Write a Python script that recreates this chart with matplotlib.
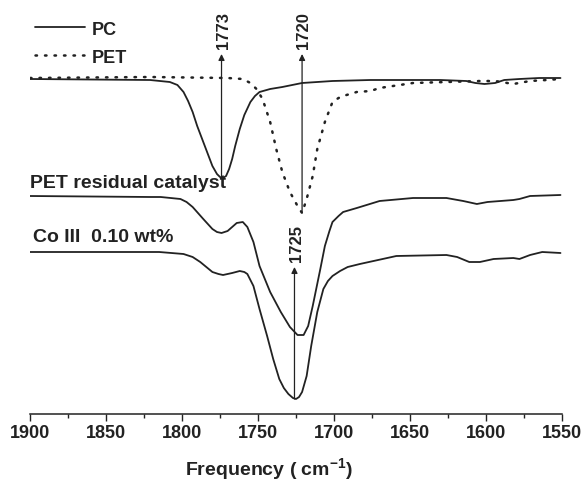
import numpy as np
import matplotlib
matplotlib.use("Agg")
import matplotlib.pyplot as plt
from matplotlib.ticker import MultipleLocator

plt.rcParams['font.family'] = ['Liberation Sans', 'DejaVu Sans']
plt.rcParams['font.weight'] = 'bold'
plt.rcParams['axes.labelweight'] = 'bold'
plt.rcParams['mathtext.default'] = 'regular'

INK = '#222222'

# FTIR spectra, transmittance in arbitrary units (stacked, offset)
pc_freq = [1900, 1821, 1808, 1803, 1799, 1796, 1793, 1790, 1786, 1783, 1780, 1777,
           1775, 1773, 1771, 1769, 1767, 1765, 1762, 1759, 1755, 1752, 1749, 1742,
           1734, 1721, 1701, 1676, 1630, 1613, 1607, 1601, 1594, 1588, 1578, 1565, 1551]
pc_t = [3.35, 3.34, 3.32, 3.29, 3.22, 3.13, 3.02, 2.88, 2.72, 2.60, 2.48, 2.40,
        2.37, 2.36, 2.38, 2.45, 2.55, 2.68, 2.85, 2.99, 3.12, 3.18, 3.22, 3.25,
        3.27, 3.31, 3.33, 3.34, 3.34, 3.33, 3.31, 3.30, 3.31, 3.34, 3.35, 3.36, 3.36]

pet_freq = [1900, 1821, 1770, 1760, 1755, 1751, 1747, 1742, 1738, 1734, 1729, 1724,
            1721, 1718, 1714, 1711, 1706, 1701, 1697, 1694, 1685, 1676, 1670, 1648,
            1626, 1604, 1594, 1582, 1571, 1560, 1551]
pet_t = [3.36, 3.37, 3.36, 3.35, 3.31, 3.25, 3.15, 2.92, 2.65, 2.42, 2.22, 2.08,
         2.01, 2.15, 2.38, 2.65, 2.92, 3.12, 3.16, 3.18, 3.22, 3.23, 3.26, 3.31,
         3.32, 3.33, 3.33, 3.30, 3.33, 3.34, 3.35]

res_freq = [1900, 1821, 1814, 1801, 1797, 1793, 1786, 1780, 1777, 1774, 1770, 1767,
            1764, 1760, 1757, 1753, 1749, 1742, 1735, 1729, 1724, 1720, 1717, 1714,
            1709, 1706, 1703, 1701, 1697, 1694, 1685, 1670, 1648, 1626, 1615, 1606,
            1599, 1582, 1578, 1571, 1551]
res_t = [2.18, 2.17, 2.17, 2.15, 2.12, 2.07, 1.95, 1.85, 1.82, 1.81, 1.83, 1.87,
         1.91, 1.92, 1.87, 1.72, 1.48, 1.22, 1.02, 0.87, 0.79, 0.79, 0.88, 1.08,
         1.45, 1.68, 1.83, 1.92, 1.98, 2.02, 2.06, 2.13, 2.16, 2.16, 2.13, 2.10,
         2.12, 2.14, 2.15, 2.18, 2.19]

co_freq = [1900, 1815, 1799, 1793, 1788, 1784, 1780, 1776, 1773, 1767, 1762, 1759,
           1757, 1753, 1749, 1744, 1740, 1736, 1733, 1730, 1727, 1725, 1723, 1721,
           1718, 1715, 1711, 1707, 1704, 1701, 1696, 1691, 1683, 1659, 1626, 1619,
           1611, 1604, 1595, 1582, 1578, 1571, 1563, 1551]
co_t = [1.62, 1.62, 1.60, 1.57, 1.52, 1.47, 1.42, 1.40, 1.39, 1.41, 1.43, 1.42,
        1.40, 1.28, 1.05, 0.78, 0.55, 0.35, 0.26, 0.20, 0.16, 0.15, 0.17, 0.22,
        0.38, 0.68, 1.02, 1.25, 1.33, 1.38, 1.43, 1.47, 1.50, 1.58, 1.59, 1.57,
        1.52, 1.52, 1.55, 1.56, 1.55, 1.59, 1.62, 1.61]

# peak markers: (label, frequency, arrow start, arrow tip)
peaks = [("1773", 1774, 2.36, 3.60),
         ("1720", 1721, 2.01, 3.60),
         ("1725", 1726, 0.15, 1.47)]

fig = plt.figure(figsize=(5.82, 4.81), dpi=100)
ax = fig.add_axes([30 / 582, 66 / 481, 532 / 582, 415 / 481])

line_kw = dict(color=INK, lw=1.3, solid_joinstyle='round', solid_capstyle='round')
ax.plot(pc_freq, pc_t, label="PC", **line_kw)
ax.plot(pet_freq, pet_t, color=INK, lw=1.8, linestyle=(0, (0.6, 3.2)),
        dash_capstyle='round', label="PET")
ax.plot(res_freq, res_t, **line_kw)
ax.plot(co_freq, co_t, **line_kw)

for lab, f, y0, y1 in peaks:
    ax.annotate("", xy=(f, y1), xytext=(f, y0),
                arrowprops=dict(arrowstyle='-|>', color=INK, lw=0.9,
                                mutation_scale=9, shrinkA=0, shrinkB=0))
    ax.text(f - 1, y1 + 0.06, lab, rotation=90, ha='center', va='bottom',
            fontsize=12, color=INK)

ax.text(1900, 2.32, "PET residual catalyst", ha='left', va='center',
        fontsize=14, color=INK)
ax.text(1898, 1.77, "Co III  0.10 wt%", ha='left', va='center',
        fontsize=14, color=INK)

leg = ax.legend(loc='upper left', bbox_to_anchor=(-0.014, 0.978), frameon=False,
                fontsize=13, handlelength=2.75, handletextpad=0.4,
                labelspacing=0.6, borderaxespad=0.3)
for t in leg.get_texts():
    t.set_color(INK)

ax.set_xlim(1900, 1550)
ax.set_ylim(0, 4.15)
ax.xaxis.set_major_locator(MultipleLocator(50))
ax.xaxis.set_minor_locator(MultipleLocator(25))
ax.tick_params(axis='x', which='major', length=5, width=1, direction='out',
               labelsize=13, pad=2.5, colors=INK)
ax.tick_params(axis='x', which='minor', length=3, width=1, direction='out', colors=INK)
ax.set_yticks([])
for s in ['left', 'right', 'top']:
    ax.spines[s].set_visible(False)
ax.spines['bottom'].set_color(INK)
ax.spines['bottom'].set_linewidth(1.1)
ax.patch.set_alpha(0)

ax.set_xlabel("Frequency ( cm$^{-1}$)", fontsize=14, color=INK)
ax.xaxis.set_label_coords(0.449, -0.098)

fig.savefig("out.png", dpi=100)
